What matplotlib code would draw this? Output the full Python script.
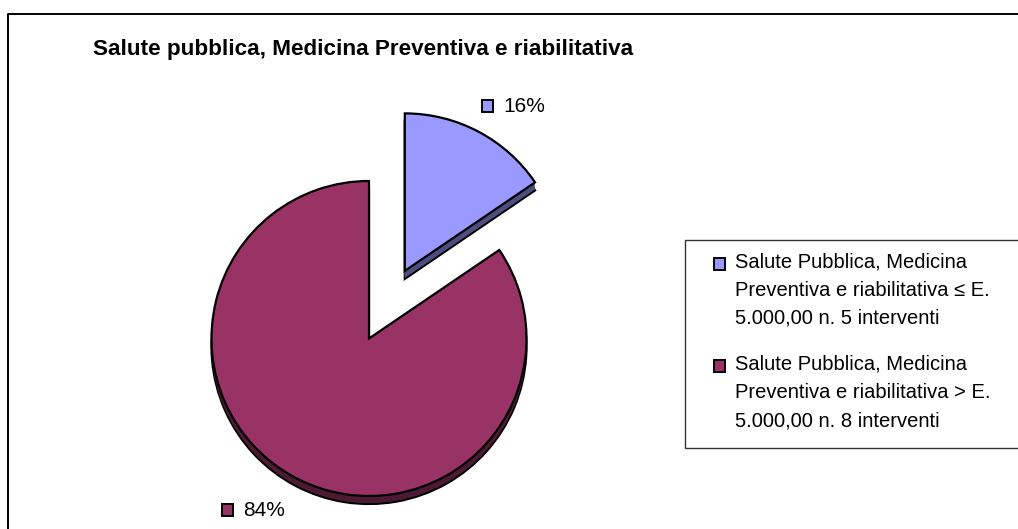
import matplotlib
matplotlib.use("Agg")
import matplotlib.pyplot as plt
from matplotlib.patches import Rectangle

plt.rcParams['font.family'] = ['Liberation Sans', 'DejaVu Sans']

W, H = 1018, 529
title = "Salute pubblica, Medicina Preventiva e riabilitativa"
categories = ["Salute Pubblica, Medicina\nPreventiva e riabilitativa \u2264 E.\n5.000,00 n. 5 interventi",
              "Salute Pubblica, Medicina\nPreventiva e riabilitativa > E.\n5.000,00 n. 8 interventi"]
values = [15.5, 84.5]
pct_labels = ["16%", "84%"]
colors = ["#9999FF", "#993366"]
dark = ["#4D4D80", "#4D1A33"]

fig = plt.figure(figsize=(W / 100, H / 100), dpi=100, facecolor="white")
ax = fig.add_axes([0, 0, 1, 1])

cx, cy, R, depth = 369, H - 338.5, 157.5, 8
explode = [76.5, 0]

for d in range(depth, 0, -1):
    ax.pie(values, explode=explode, startangle=90, counterclock=False,
           colors=dark, radius=R, center=(cx, cy - d),
           wedgeprops=dict(edgecolor="black" if d == depth else "none",
                           linewidth=1.6 if d == depth else 0))
ax.pie(values, explode=explode, startangle=90, counterclock=False,
       colors=colors, radius=R, center=(cx, cy),
       wedgeprops=dict(edgecolor="black", linewidth=1.6))

ax.set_xlim(0, W)
ax.set_ylim(0, H)
ax.set_aspect("auto")
ax.axis("off")

def Y(y):
    return H - y

ax.plot([8.5, 8.5, W], [Y(529), Y(14), Y(14)], color="black", lw=1.4, clip_on=False, solid_capstyle="butt")

ax.text(93, Y(49), title, fontsize=16.2, fontweight="bold", va="center", ha="left", color="black")

def swatch(x, y, c, s=11.5):
    ax.add_patch(Rectangle((x, Y(y) - s / 2), s, s, facecolor=c, edgecolor="black", lw=1.4, zorder=5))

swatch(482, 106, colors[0])
ax.text(503, Y(106), pct_labels[0], fontsize=15, va="center", ha="left")
swatch(222, 510, colors[1])
ax.text(243, Y(510), pct_labels[1], fontsize=15, va="center", ha="left")

ax.add_patch(Rectangle((685, Y(448)), W - 685 + 5, 448 - 240, facecolor="white",
                       edgecolor="#333333", lw=1.0, zorder=4, clip_on=True))
ys = [(262, 290, 318), (364, 392, 421)]
for i, lab in enumerate(categories):
    swatch(714, ys[i][0] + 2, colors[i])
    for line, y in zip(lab.split("\n"), ys[i]):
        ax.text(735, Y(y), line, fontsize=14.5, va="center", ha="left", zorder=6)

fig.savefig("out.png", dpi=100, facecolor="white")
